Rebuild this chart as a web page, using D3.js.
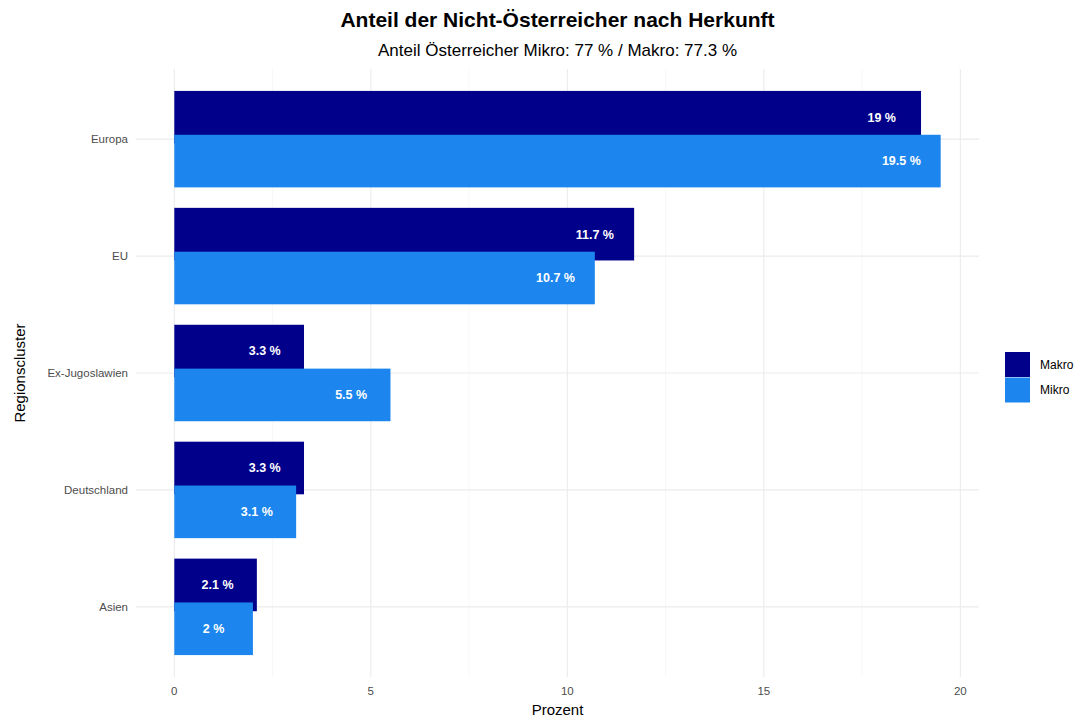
<!DOCTYPE html>
<html lang="de">
<head>
<meta charset="UTF-8">
<title>Anteil der Nicht-Österreicher nach Herkunft</title>
<script src="https://d3js.org/d3.v7.min.js"></script>
<style>
    body { margin: 0; background: #fff; font-family: "Liberation Sans", Arial, sans-serif; }
    .grid line { stroke: #ebebeb; }
    .grid .minor { stroke: #f3f3f3; }
    .tick-label { fill: #4d4d4d; font-size: 11.5px; }
    .bar-label { fill: #fff; font-size: 12.5px; font-weight: bold; }
</style>
</head>
<body>
<svg id="chart" width="1078" height="720"></svg>
<script>
    // Daten
    const categories = ["Europa", "EU", "Ex-Jugoslawien", "Deutschland", "Asien"];
    const series = ["Makro", "Mikro"];
    const makroValues = [19, 11.7, 3.3, 3.3, 2.1];
    const mikroValues = [19.5, 10.7, 5.5, 3.1, 2];
    const xTicks = [0, 5, 10, 15, 20];
    const colors = { Makro: "#00008B", Mikro: "#1C86EE" };

    const values = { Makro: makroValues, Mikro: mikroValues };
    const rows = [];
    series.forEach(s => {
        categories.forEach((c, i) => rows.push({ cat: c, series: s, value: values[s][i] }));
    });

    const svg = d3.select("#chart");
    const panel = { left: 136, right: 979, top: 69, bottom: 677 };

    const maxVal = d3.max(rows, d => d.value);
    const x = d3.scaleLinear()
        .domain([-0.05 * maxVal, maxVal * 1.05])
        .range([panel.left, panel.right]);

    // diskrete Achse mit 0.6 Einheiten Rand wie in ggplot
    const n = categories.length;
    const step = (panel.bottom - panel.top) / (n - 1 + 1.2);
    const yCenter = c => panel.top + step * (0.6 + categories.indexOf(c));

    // Gitter
    const grid = svg.append("g").attr("class", "grid");
    const minorTicks = d3.range(2.5, 20.1, 5);
    grid.selectAll(".minor").data(minorTicks).enter().append("line")
        .attr("class", "minor")
        .attr("x1", d => x(d)).attr("x2", d => x(d))
        .attr("y1", panel.top).attr("y2", panel.bottom)
        .attr("stroke-width", 0.6);
    grid.selectAll(".vmajor").data(xTicks).enter().append("line")
        .attr("x1", d => x(d)).attr("x2", d => x(d))
        .attr("y1", panel.top).attr("y2", panel.bottom)
        .attr("stroke-width", 1.1);
    grid.selectAll(".hmajor").data(categories).enter().append("line")
        .attr("x1", panel.left).attr("x2", panel.right)
        .attr("y1", d => yCenter(d)).attr("y2", d => yCenter(d))
        .attr("stroke-width", 1.1);

    // Balken (dodge 0.75, Breite 0.9)
    const barH = step * 0.45;
    const offset = { Makro: -step * 0.1875, Mikro: step * 0.1875 };

    svg.append("g").selectAll("rect").data(rows).enter().append("rect")
        .attr("x", x(0))
        .attr("y", d => yCenter(d.cat) + offset[d.series] - barH / 2)
        .attr("width", d => x(d.value) - x(0))
        .attr("height", barH)
        .attr("fill", d => colors[d.series]);

    svg.append("g").selectAll("text").data(rows).enter().append("text")
        .attr("class", "bar-label")
        .attr("x", d => x(d.value - 1))
        .attr("y", d => yCenter(d.cat) + offset[d.series])
        .attr("dy", "0.35em")
        .attr("text-anchor", "middle")
        .text(d => `${d.value} %`);

    // Achsenbeschriftungen
    svg.append("g").selectAll("text").data(xTicks).enter().append("text")
        .attr("class", "tick-label")
        .attr("x", d => x(d)).attr("y", 695)
        .attr("text-anchor", "middle")
        .text(d => d);

    svg.append("g").selectAll("text").data(categories).enter().append("text")
        .attr("class", "tick-label")
        .attr("x", 128).attr("y", d => yCenter(d))
        .attr("dy", "0.35em")
        .attr("text-anchor", "end")
        .text(d => d);

    svg.append("text")
        .attr("x", (panel.left + panel.right) / 2).attr("y", 715)
        .attr("text-anchor", "middle")
        .style("font-size", "15px")
        .text("Prozent");

    svg.append("text")
        .attr("transform", `translate(25, ${(panel.top + panel.bottom) / 2}) rotate(-90)`)
        .attr("text-anchor", "middle")
        .style("font-size", "15px")
        .text("Regionscluster");

    // Titel
    svg.append("text")
        .attr("x", (panel.left + panel.right) / 2).attr("y", 27)
        .attr("text-anchor", "middle")
        .style("font-size", "21px").style("font-weight", "bold")
        .text("Anteil der Nicht-Österreicher nach Herkunft");

    svg.append("text")
        .attr("x", (panel.left + panel.right) / 2).attr("y", 56)
        .attr("text-anchor", "middle")
        .style("font-size", "17px")
        .text("Anteil Österreicher Mikro: 77 % / Makro: 77.3 %");

    // Legende
    const legend = svg.append("g").attr("transform", "translate(1005, 352)");
    series.forEach((s, i) => {
        legend.append("rect")
            .attr("x", 0).attr("y", i * 25.5)
            .attr("width", 25).attr("height", 25)
            .attr("fill", colors[s]);
        legend.append("text")
            .attr("x", 35).attr("y", i * 25.5 + 12.5)
            .attr("dy", "0.35em")
            .style("font-size", "12px")
            .text(s);
    });
</script>
</body>
</html>
